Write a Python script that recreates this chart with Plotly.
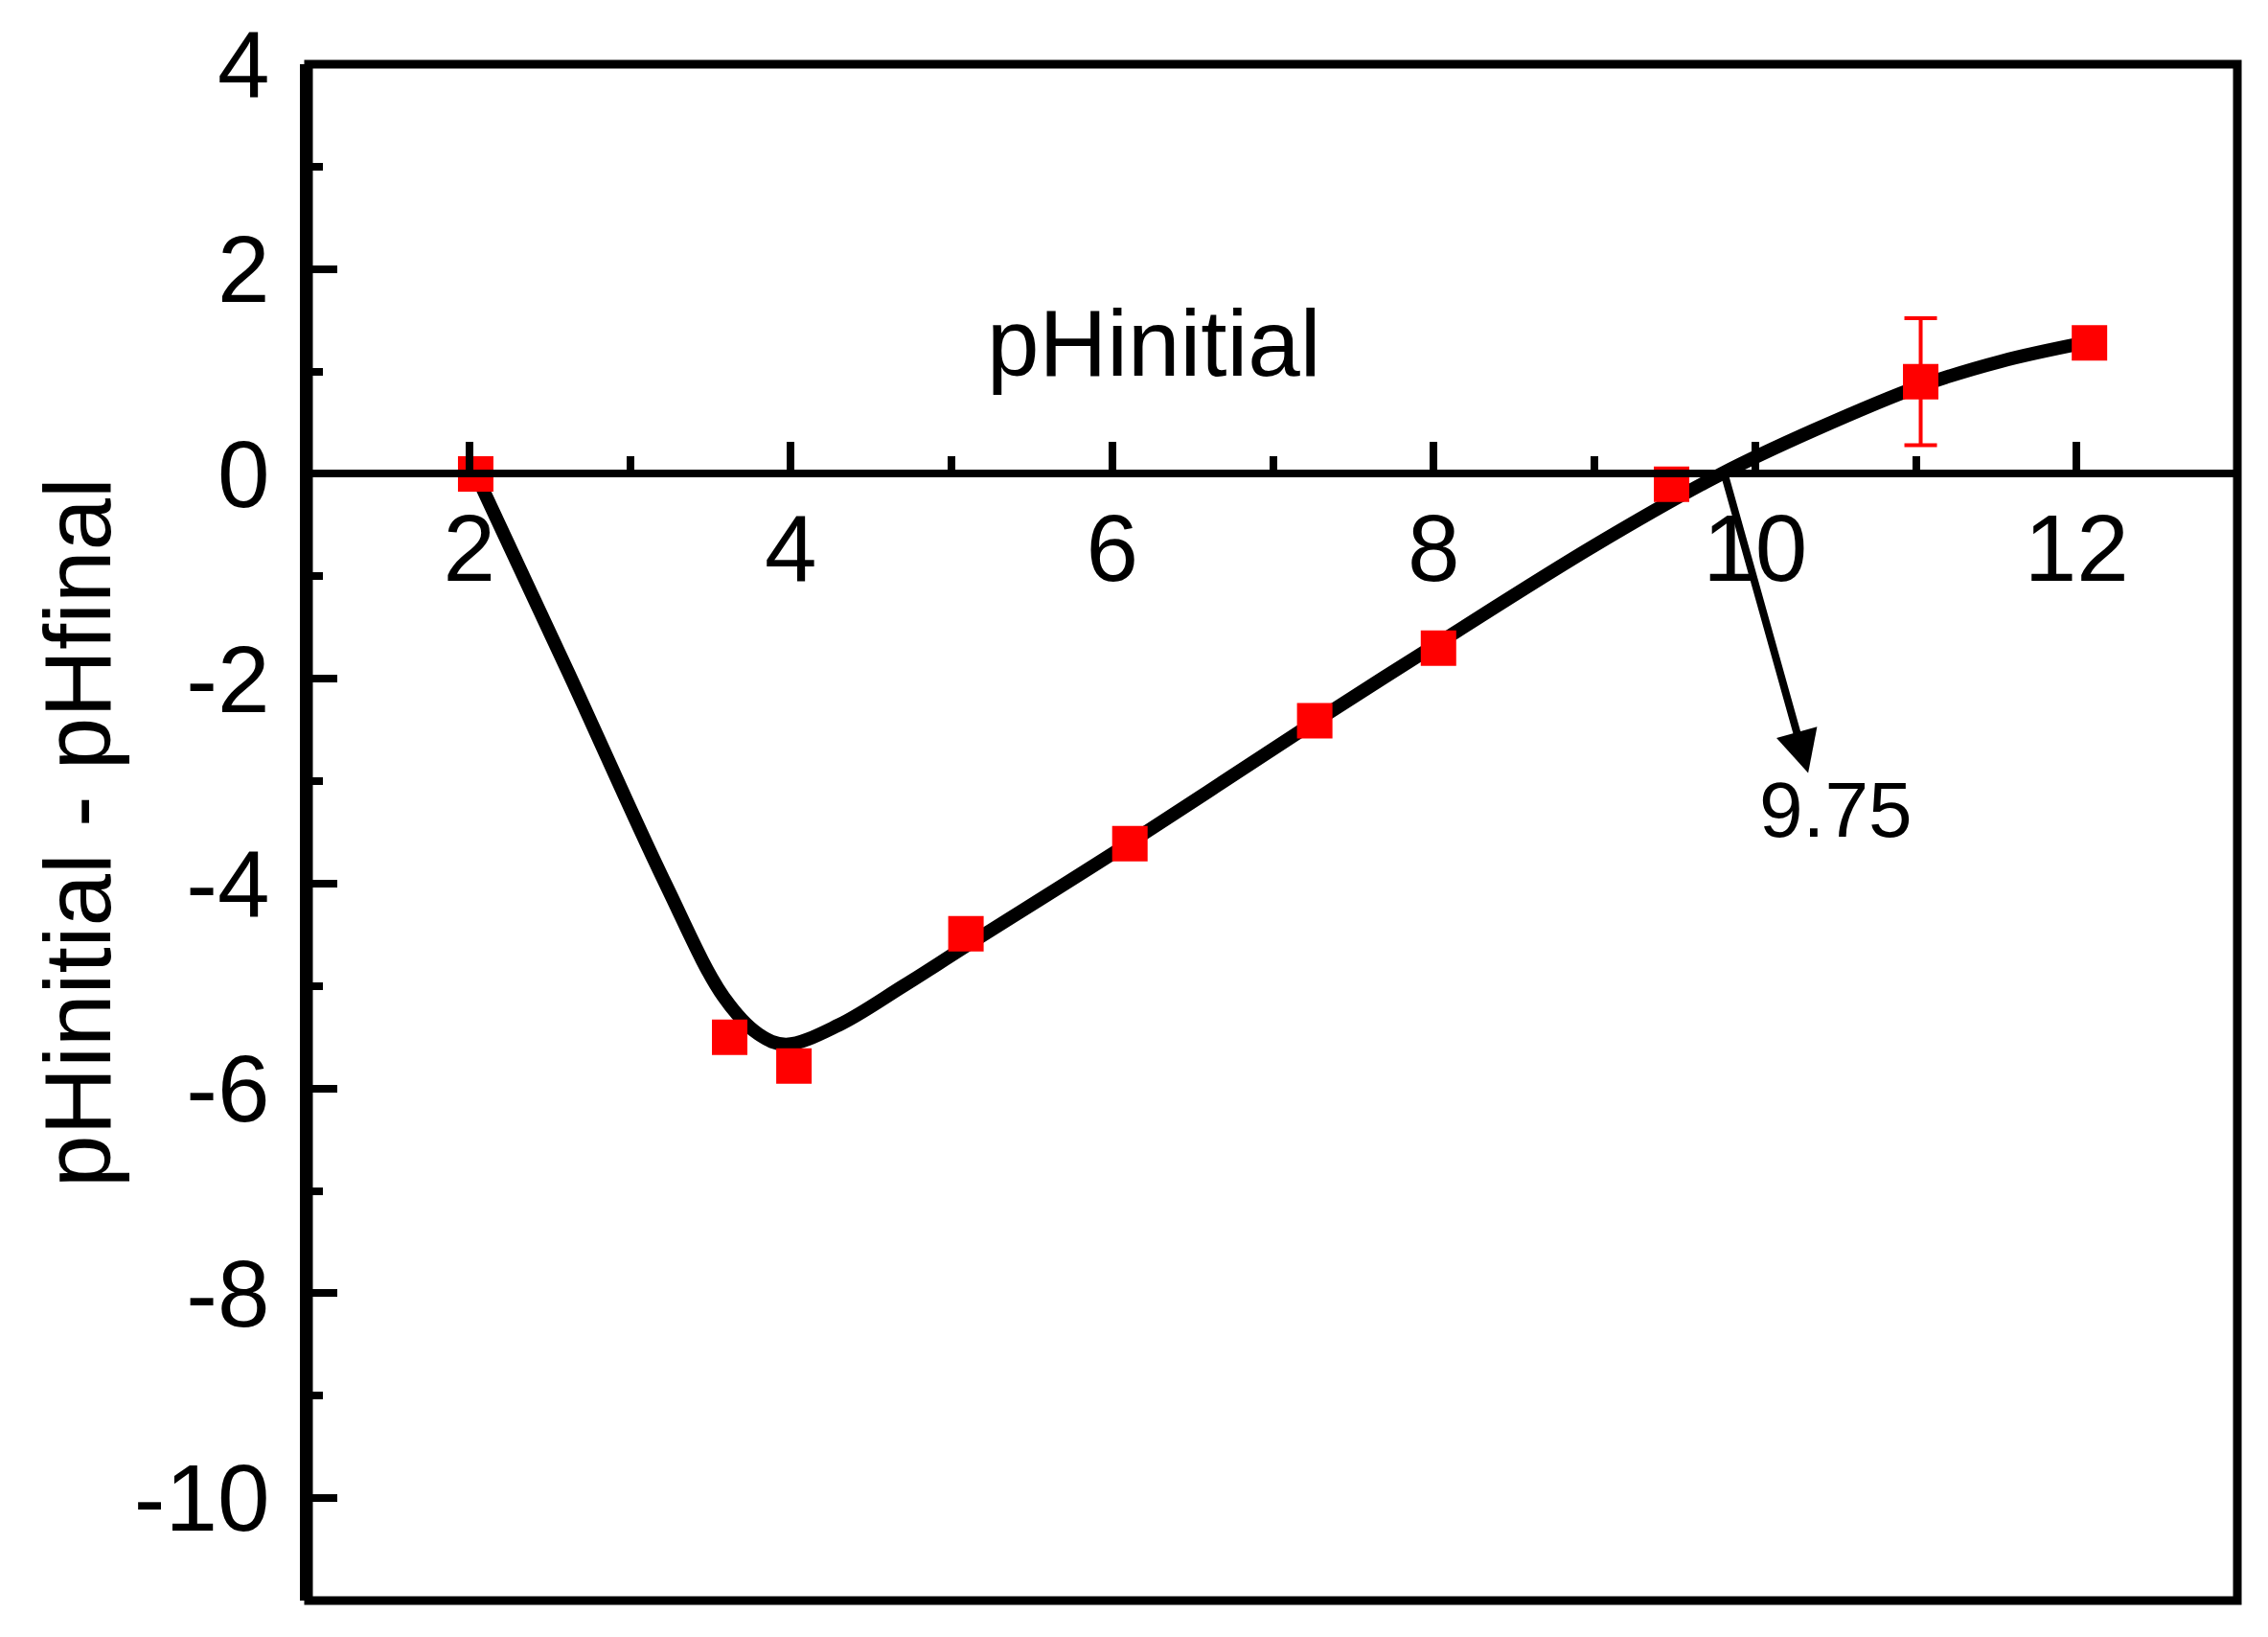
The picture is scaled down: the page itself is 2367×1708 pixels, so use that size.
import plotly.graph_objects as go

# ---- data ----
ph_initial = [2.04, 3.62, 4.02, 5.09, 6.11, 7.26, 8.03, 9.48, 11.03, 12.08]
delta_ph = [0.0, -5.50, -5.78, -4.49, -3.61, -2.41, -1.70, -0.10, 0.90, 1.28]
delta_err = [0, 0, 0, 0, 0, 0, 0, 0, 0.62, 0]

# smooth guide curve
fit_x = [2.04, 2.62, 3.22, 3.58, 3.80, 3.97, 4.30, 4.70, 5.09, 6.11,
         7.26, 8.03, 9.0, 9.79, 10.37, 11.03, 11.53, 12.05]
fit_y = [0.0, -1.95, -4.0, -5.10, -5.47, -5.57, -5.38, -5.00, -4.61, -3.60,
         -2.42, -1.65, -0.70, 0.0, 0.43, 0.86, 1.10, 1.28]

x_ticks = [2, 4, 6, 8, 10, 12]
y_ticks = [-10, -8, -6, -4, -2, 0, 2, 4]
x_range = [1, 13]
y_range = [-11, 4]

pzc_label = "9.75"
pzc_label_pos = (10.50, -3.28)
arrow_tail = (9.80, 0.05)
arrow_head = (10.33, -2.92)
xtitle_pos = (6.26, 1.28)

FONT = "Arial, Liberation Sans, sans-serif"

# the page body has an 8px default margin; compensate so the plot area lands
# at the same window pixels as the reference
BODY = 8
W, H = 2367 - 2 * BODY, 1708 - 2 * BODY

fig = go.Figure()

fig.add_trace(go.Scatter(
    x=fit_x, y=fit_y, mode="lines",
    line=dict(color="black", width=14, shape="spline", smoothing=1.0),
    hoverinfo="skip",
))

fig.add_trace(go.Scatter(
    x=ph_initial, y=delta_ph, mode="markers",
    marker=dict(symbol="square", size=37, color="#FF0000", line=dict(width=0)),
    error_y=dict(type="data", array=delta_err, visible=True,
                 color="#FF0000", thickness=4, width=17),
))

y0_paper = (0 - y_range[0]) / (y_range[1] - y_range[0])

fig.update_layout(
    width=W, height=H,
    margin=dict(l=322 - BODY, r=32 - BODY, t=67 - BODY, b=38 - BODY, autoexpand=False),
    paper_bgcolor="white", plot_bgcolor="white",
    showlegend=False,
    font=dict(family=FONT, color="black", size=98),
    xaxis=dict(
        range=x_range, tickvals=x_ticks, ticktext=[str(v) for v in x_ticks],
        anchor="free", position=y0_paper, automargin=False,
        showline=True, linecolor="black", linewidth=8,
        ticks="inside", ticklen=29, tickwidth=8, tickcolor="black",
        minor=dict(dtick=1, tick0=1, ticks="inside", ticklen=14, tickwidth=8,
                   tickcolor="black", showgrid=False),
        showgrid=False, zeroline=False,
        tickfont=dict(size=98, family=FONT, color="black"),
        ticklabelstandoff=-10,
    ),
    yaxis=dict(
        range=y_range, tickvals=y_ticks, ticktext=[str(v) for v in y_ticks],
        automargin=False,
        showline=True, linecolor="black", linewidth=9,
        ticks="inside", ticklen=30, tickwidth=8, tickcolor="black",
        minor=dict(dtick=1, tick0=1, ticks="inside", ticklen=15, tickwidth=8,
                   tickcolor="black", showgrid=False),
        showgrid=False, zeroline=False,
        tickfont=dict(size=98, family=FONT, color="black"),
        ticklabelstandoff=12,
    ),
    shapes=[dict(type="rect", xref="paper", yref="paper", x0=0, x1=1, y0=0, y1=1,
                 line=dict(color="black", width=9), layer="above")],
)

fig.add_annotation(x=xtitle_pos[0], y=xtitle_pos[1], xref="x", yref="y",
                   text="pHinitial", showarrow=False,
                   font=dict(size=98, family=FONT, color="black"),
                   xanchor="center", yanchor="middle")

fig.add_annotation(x=-0.120, y=0.5, xref="paper", yref="paper",
                   text="pHinitial - pHfinal", showarrow=False, textangle=-90,
                   font=dict(size=98, family=FONT, color="black"),
                   xanchor="center", yanchor="middle")

fig.add_annotation(x=pzc_label_pos[0], y=pzc_label_pos[1], xref="x", yref="y",
                   text=pzc_label, showarrow=False,
                   font=dict(size=82, family=FONT, color="black"),
                   xanchor="center", yanchor="middle")

fig.add_annotation(x=arrow_head[0], y=arrow_head[1], xref="x", yref="y",
                   ax=arrow_tail[0], ay=arrow_tail[1], axref="x", ayref="y",
                   text="", showarrow=True, arrowhead=2, arrowsize=1.1,
                   arrowwidth=8, arrowcolor="black", standoff=0, startstandoff=0)

fig.write_html("out.html")
